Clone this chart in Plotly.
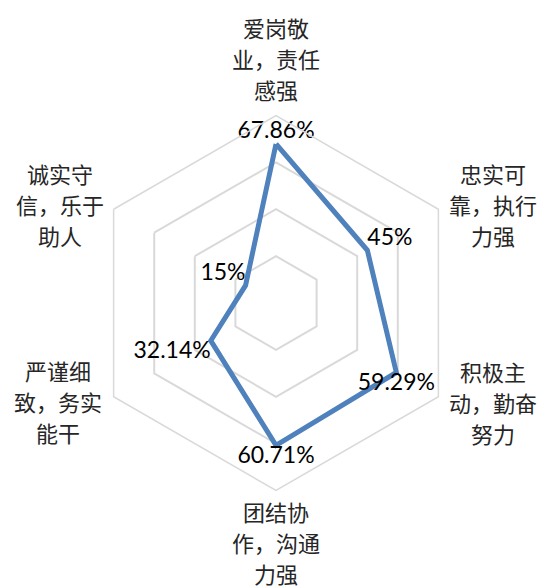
import plotly.graph_objects as go

# ---- data ----
categories = ["爱岗敬业，责任感强", "忠实可靠，执行力强", "积极主动，勤奋努力",
              "团结协作，沟通力强", "严谨细致，务实能干", "诚实守信，乐于助人"]
category_lines = [["爱岗敬", "业，责任", "感强"], ["忠实可", "靠，执行", "力强"],
                  ["积极主", "动，勤奋", "努力"], ["团结协", "作，沟通", "力强"],
                  ["严谨细", "致，务实", "能干"], ["诚实守", "信，乐于", "助人"]]
values = [67.86, 45, 59.29, 60.71, 32.14, 15]
value_labels = ["67.86%", "45%", "59.29%", "60.71%", "32.14%", "15%"]
text_positions = ["top center", "top right", "bottom center", "bottom center", "bottom left", "top left"]

# ---- layout geometry (screen px) ----
W, H = 542, 588
cx, cy, R = 276, 303, 187.5

fig = go.Figure()
fig.add_trace(go.Scatterpolar(
    r=values + [values[0]],
    theta=categories + [categories[0]],
    mode="lines+text",
    line=dict(color="#4F81BD", width=5),
    text=value_labels + [""],
    textposition=text_positions + ["top center"],
    textfont=dict(family="Lato, Noto Sans CJK SC", size=23, color="#000000"),
    hoverinfo="skip",
    showlegend=False,
    cliponaxis=False,
))

# category label blocks: offset of block centre from chart centre (px)
label_offsets = [(0, -245), (217, -99), (217, 99), (0, 239), (-218, 98), (-216, -99)]
line_gap = 31
annotations = []
for (dx, dy), lines in zip(label_offsets, category_lines):
    for j, txt in enumerate(lines):
        lx = cx + dx
        ly = cy + dy + (j - 1) * line_gap
        annotations.append(dict(
            x=lx / W, y=1 - ly / H, xref="paper", yref="paper",
            text=txt, showarrow=False, xanchor="center", yanchor="middle",
            font=dict(family="Noto Sans CJK SC", size=22, color="#262626"),
        ))

fig.update_layout(
    width=W, height=H,
    margin=dict(l=0, r=0, t=0, b=0, autoexpand=False),
    paper_bgcolor="white",
    plot_bgcolor="white",
    annotations=annotations,
    polar=dict(
        domain=dict(x=[(cx - R) / W, (cx + R) / W], y=[(H - cy - R) / H, (H - cy + R) / H]),
        gridshape="linear",
        bgcolor="white",
        radialaxis=dict(range=[0, 80], dtick=20, showticklabels=False, ticks="",
                        showline=False, gridcolor="#D9D9D9", gridwidth=1.5),
        angularaxis=dict(direction="clockwise", rotation=90, showgrid=False, ticks="",
                         showticklabels=False,
                         showline=True, linecolor="#D9D9D9", linewidth=1.5),
    ),
)
fig.write_html("out.html", config={"displayModeBar": False},
               post_script="document.body.style.margin='0';document.body.style.overflow='hidden';")
